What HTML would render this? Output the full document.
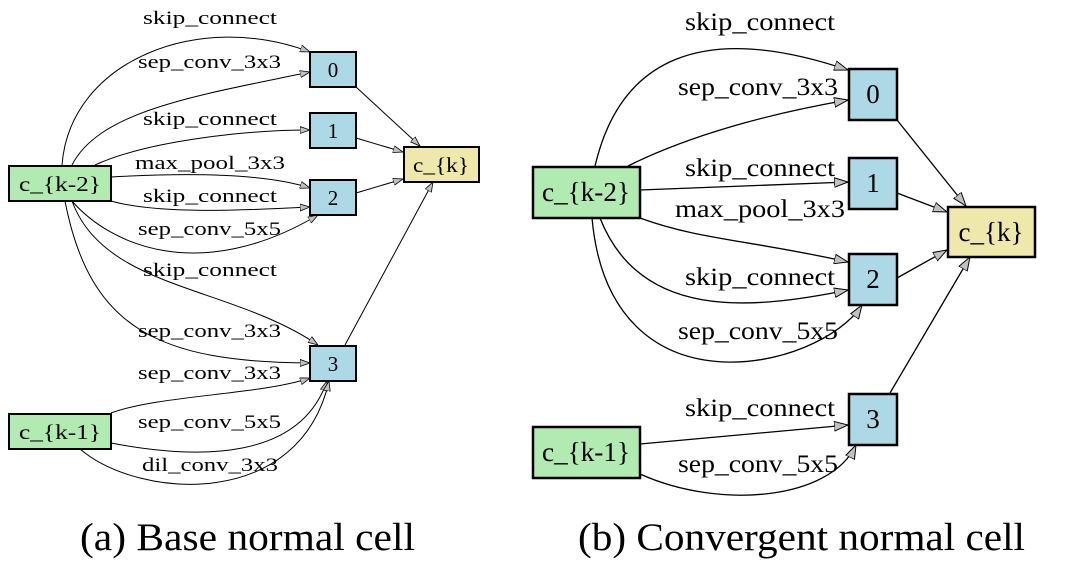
<!DOCTYPE html>
<html><head><meta charset="utf-8"><style>
html,body{margin:0;padding:0;background:#fff;width:1080px;height:563px;overflow:hidden}
text{font-family:"Liberation Serif",serif;fill:#000}
</style></head><body>
<svg width="1080" height="563" viewBox="0 0 1080 563" xmlns="http://www.w3.org/2000/svg">
<defs>
<marker id="a" viewBox="0 0 10 8" refX="10" refY="4" markerWidth="10" markerHeight="8" markerUnits="userSpaceOnUse" orient="auto">
<path d="M0,0.5 L10,4 L0,7.5 Z" fill="#c0c0c0" stroke="#000" stroke-width="0.8"/>
</marker>
<marker id="b" viewBox="0 0 10 8" refX="10" refY="4" markerWidth="14" markerHeight="11" markerUnits="userSpaceOnUse" orient="auto">
<path d="M0,0.5 L10,4 L0,7.5 Z" fill="#c0c0c0" stroke="#000" stroke-width="0.7"/>
</marker>
</defs>
<g fill="none" stroke="#000" stroke-width="1" marker-end="url(#a)">
<path d="M62,165 C70,60 200,10 310,52"/>
<path d="M72,165 C100,110 200,95 310,72"/>
<path d="M95,165 C150,140 250,130 310,130"/>
<path d="M111,177 C200,172 270,175 310,188"/>
<path d="M111,201 C160,215 250,210 310,207"/>
<path d="M72,201 C110,245 200,285 318,215"/>
<path d="M72,201 C105,290 230,285 318,345"/>
<path d="M65,201 C90,330 160,362 310,363"/>
<path d="M111,413 C160,395 260,395 310,378"/>
<path d="M111,443 C200,460 300,460 327,381"/>
<path d="M80,449 C140,500 300,510 329,381"/>
<path d="M356,87 L420,146"/>
<path d="M356,138 L403,152"/>
<path d="M356,193 L403,179"/>
<path d="M345,345 L433,182"/>
</g>
<g fill="none" stroke="#000" stroke-width="1.3" marker-end="url(#b)">
<path d="M595,166 C620,60 700,20 848,70"/>
<path d="M628,166 C700,130 790,110 848,100"/>
<path d="M640,190 L848,182"/>
<path d="M640,218 C700,240 750,240 848,262"/>
<path d="M600,218 C640,320 750,310 848,290"/>
<path d="M592,218 C610,420 820,370 862,305"/>
<path d="M897,120 L966,206"/>
<path d="M897,193 L947,212"/>
<path d="M897,278 L947,250"/>
<path d="M890,393 L970,257"/>
<path d="M640,444 L848,425"/>
<path d="M640,474 C720,510 830,500 856,445"/>
</g>
<g stroke="#000" stroke-width="2">
<rect x="9" y="166" width="102" height="35" fill="#b2ebb2"/>
<rect x="9" y="414" width="102" height="35" fill="#b2ebb2"/>
<rect x="310" y="52" width="46" height="35" fill="#add8e6"/>
<rect x="310" y="113" width="46" height="35" fill="#add8e6"/>
<rect x="310" y="180" width="46" height="35" fill="#add8e6"/>
<rect x="310" y="346" width="46" height="35" fill="#add8e6"/>
<rect x="404" y="147" width="75" height="35" fill="#eee8aa"/>
</g>
<g stroke="#000" stroke-width="2.5">
<rect x="533" y="167" width="107" height="51" fill="#b2ebb2"/>
<rect x="533" y="427" width="107" height="51" fill="#b2ebb2"/>
<rect x="849" y="69" width="48" height="51" fill="#add8e6"/>
<rect x="849" y="158" width="48" height="51" fill="#add8e6"/>
<rect x="849" y="254" width="48" height="51" fill="#add8e6"/>
<rect x="849" y="394" width="48" height="51" fill="#add8e6"/>
<rect x="948" y="207" width="87" height="50" fill="#eee8aa"/>
</g>
<g font-size="21" text-anchor="middle">
<text x="60" y="191" textLength="82" lengthAdjust="spacingAndGlyphs">c_{k-2}</text>
<text x="60" y="439" textLength="82" lengthAdjust="spacingAndGlyphs">c_{k-1}</text>
<text x="333" y="77">0</text>
<text x="333" y="138">1</text>
<text x="333" y="205">2</text>
<text x="333" y="371">3</text>
<text x="441" y="172" textLength="56" lengthAdjust="spacingAndGlyphs">c_{k}</text>
</g>
<g font-size="19">
<text x="143" y="24" textLength="134" lengthAdjust="spacingAndGlyphs">skip_connect</text>
<text x="138" y="68" textLength="143" lengthAdjust="spacingAndGlyphs">sep_conv_3x3</text>
<text x="143" y="125" textLength="134" lengthAdjust="spacingAndGlyphs">skip_connect</text>
<text x="135" y="169" textLength="150" lengthAdjust="spacingAndGlyphs">max_pool_3x3</text>
<text x="143" y="202" textLength="134" lengthAdjust="spacingAndGlyphs">skip_connect</text>
<text x="138" y="235" textLength="143" lengthAdjust="spacingAndGlyphs">sep_conv_5x5</text>
<text x="143" y="276" textLength="134" lengthAdjust="spacingAndGlyphs">skip_connect</text>
<text x="138" y="337" textLength="143" lengthAdjust="spacingAndGlyphs">sep_conv_3x3</text>
<text x="138" y="379" textLength="143" lengthAdjust="spacingAndGlyphs">sep_conv_3x3</text>
<text x="138" y="428" textLength="143" lengthAdjust="spacingAndGlyphs">sep_conv_5x5</text>
<text x="142" y="471" textLength="136" lengthAdjust="spacingAndGlyphs">dil_conv_3x3</text>
</g>
<g font-size="27" text-anchor="middle">
<text x="586" y="201" textLength="88" lengthAdjust="spacingAndGlyphs">c_{k-2}</text>
<text x="586" y="461" textLength="88" lengthAdjust="spacingAndGlyphs">c_{k-1}</text>
<text x="873" y="103">0</text>
<text x="873" y="192">1</text>
<text x="873" y="288">2</text>
<text x="873" y="428">3</text>
<text x="991" y="241">c_{k}</text>
</g>
<g font-size="25">
<text x="685" y="30" textLength="150" lengthAdjust="spacingAndGlyphs">skip_connect</text>
<text x="678" y="95" textLength="160" lengthAdjust="spacingAndGlyphs">sep_conv_3x3</text>
<text x="685" y="176" textLength="150" lengthAdjust="spacingAndGlyphs">skip_connect</text>
<text x="675" y="217" textLength="170" lengthAdjust="spacingAndGlyphs">max_pool_3x3</text>
<text x="685" y="285" textLength="150" lengthAdjust="spacingAndGlyphs">skip_connect</text>
<text x="678" y="339" textLength="160" lengthAdjust="spacingAndGlyphs">sep_conv_5x5</text>
<text x="685" y="416" textLength="150" lengthAdjust="spacingAndGlyphs">skip_connect</text>
<text x="678" y="472" textLength="160" lengthAdjust="spacingAndGlyphs">sep_conv_5x5</text>
</g>
<g font-size="39">
<text x="80" y="550" textLength="335" lengthAdjust="spacingAndGlyphs">(a) Base normal cell</text>
<text x="578" y="550" textLength="447" lengthAdjust="spacingAndGlyphs">(b) Convergent normal cell</text>
</g>
</svg>
</body></html>
